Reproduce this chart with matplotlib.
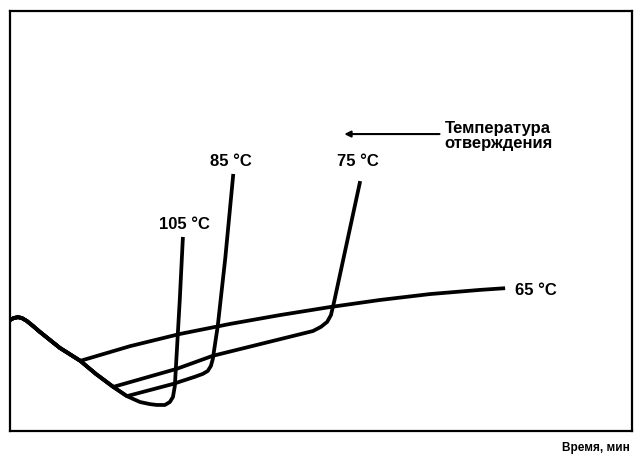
import matplotlib
matplotlib.use("Agg")
import numpy as np
import matplotlib.pyplot as plt

plt.rcParams['font.family'] = ['Liberation Sans', 'DejaVu Sans']

# shared initial descent (time, viscosity - arbitrary units)
x_common = [0, 0.6, 1.3, 1.9, 2.7, 3.7, 4.8, 6.4, 8.0, 9.6, 11.3, 13.8, 16.6, 18.8, 20.9, 22.5]
y_common = [26.4, 26.9, 27.1, 26.9, 26.2, 25.0, 23.6, 21.7, 19.8, 18.3, 16.7, 13.6, 10.5, 8.3, 6.9, 6.4]

# branch of each curing temperature after it leaves the common part
x_65 = [19.3, 27.3, 35.4, 43.4, 51.4, 59.5, 67.5, 75.6, 79.6]
y_65 = [20.2, 23.1, 25.5, 27.6, 29.5, 31.2, 32.6, 33.6, 34.0]
x_75 = [26.8, 32.6, 48.7, 50.0, 51.0, 51.6, 52.1, 56.3]
y_75 = [14.8, 17.9, 23.8, 24.8, 26.0, 27.6, 30.7, 59.5]
x_85 = [26.2, 29.7, 31.0, 31.8, 32.3, 32.6, 33.4, 34.6, 35.9]
y_85 = [11.2, 12.9, 13.6, 14.3, 15.5, 17.1, 25.0, 41.0, 61.2]
x_105 = [23.6, 24.9, 25.7, 26.2, 26.5, 27.3, 27.8]
y_105 = [6.2, 6.2, 6.9, 8.1, 10.7, 31.4, 46.2]

# how many common points each curve uses before branching
split = {'65': 11, '75': 13, '85': 14, '105': 16}
branches = {'65': (x_65, y_65), '75': (x_75, y_75),
            '85': (x_85, y_85), '105': (x_105, y_105)}

labels = ['105 °C', '85 °C', '75 °C', '65 °C']
label_x = [28.0, 35.5, 55.9, 81.2]
label_y = [49.3, 64.3, 64.3, 33.6]

fig = plt.figure(figsize=(6.34, 4.56), dpi=100)
ax = fig.add_axes([10 / 634, 24 / 456, 622 / 634, 420 / 456])

for key, (bx, by) in branches.items():
    n = split[key]
    xs = x_common[:n] + bx
    ys = y_common[:n] + by
    ax.plot(xs, ys, color='black', lw=2.7, solid_joinstyle='round',
            solid_capstyle='butt')

for i, txt in enumerate(labels):
    ha = 'left' if txt == '65 °C' else 'center'
    ax.text(label_x[i], label_y[i], txt, ha=ha, va='center',
            fontsize=12, fontweight='bold')

ax.annotate('', xy=(53.3, 70.7), xytext=(69.5, 70.7),
            arrowprops=dict(arrowstyle='-|>', color='black', lw=1.5,
                            mutation_scale=9))
ax.text(69.9, 70.5, 'Температура\nотверждения', ha='left', va='center',
        fontsize=12, fontweight='bold', linespacing=1.05)

ax.set_xlim(0, 100)
ax.set_ylim(0, 100)
ax.set_xticks([])
ax.set_yticks([])
for s in ax.spines.values():
    s.set_linewidth(1.6)

fig.text(0.993, 0.018, 'Время, мин', ha='right', va='center',
         fontsize=8.5, fontweight='bold')

fig.savefig('out.png', dpi=100)
